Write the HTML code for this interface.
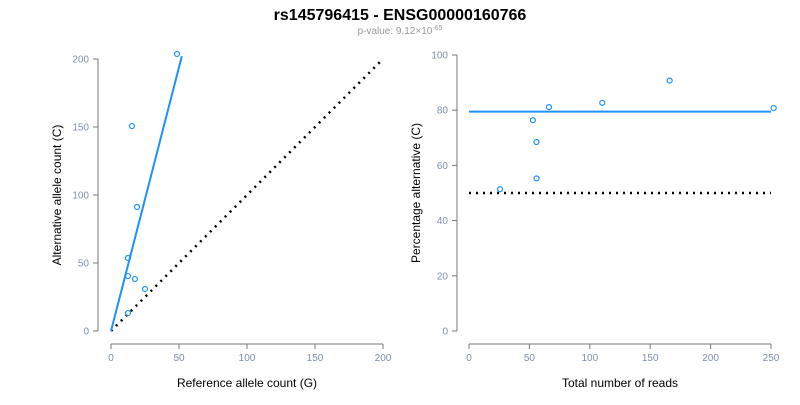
<!DOCTYPE html>
<html><head><meta charset="utf-8"><style>body{margin:0;background:#fff}svg{font-family:"Liberation Sans",sans-serif}</style></head>
<body>
<svg id="c" width="800" height="400">
<text x="400" y="20" text-anchor="middle" font-weight="bold" font-size="16">rs145796415 - ENSG00000160766</text>
<text x="400" y="34" text-anchor="middle" font-size="10" fill="#999">p-value: 9.12×10<tspan dy="-4" font-size="7">-65</tspan></text>
</svg>
<script>
const refCounts=[48.5,15.4,19.1,12.5,12.5,17.6,25,12.5];
const altCounts=[203.7,150.7,91.2,53.7,40.4,38.2,30.9,13.2];
const fitPct=[79.5];
const nullPct=[50];
const leftTicks=[0,50,100,150,200];
const rightXTicks=[0,50,100,150,200,250];
const rightYTicks=[0,20,40,60,80,100];
const svg=document.getElementById('c');const NS='http://www.w3.org/2000/svg';
function el(t,a,name){const e=document.createElementNS(NS,t);for(const k in a)e.setAttribute(k,a[k]);


svg.appendChild(e);return e;}
const lx=v=>111+v/200*272, ly=v=>331-v/200*272;
const rx=v=>469+v/250*302, ry=v=>331-v/100*276;
const blue='#1e90ff',ax='#777',tk='#7f8fa6';
function axes(xs,ys,xf,yf,xl,yl,xAxisY,yAxisX,pre,xt,yt,xc){
 el('line',{x1:xf(xs[0]),x2:xf(xs[xs.length-1]),y1:xAxisY,y2:xAxisY,stroke:ax},pre+'x-axis');
 el('line',{x1:yAxisX,x2:yAxisX,y1:yf(ys[0]),y2:yf(ys[ys.length-1]),stroke:ax},pre+'y-axis');
 xs.forEach(v=>{el('line',{x1:xf(v),x2:xf(v),y1:xAxisY,y2:xAxisY+5,stroke:ax},pre+'x-tick');
  const t=el('text',{x:xf(v),y:xAxisY+17,'text-anchor':'middle','font-size':10,fill:tk},pre+'x-tick-label');t.textContent=v;});
 ys.forEach(v=>{el('line',{x1:yAxisX-5,x2:yAxisX,y1:yf(v),y2:yf(v),stroke:ax},pre+'y-tick');
  const t=el('text',{x:yAxisX-9,y:yf(v)+3.5,'text-anchor':'end','font-size':10,fill:tk},pre+'y-tick-label');t.textContent=v;});
 let t=el('text',{x:xc,y:387,'text-anchor':'middle','font-size':12},pre+'x-axis-title');t.textContent=xt;
 const cy=(yf(ys[0])+yf(ys[ys.length-1]))/2;
 t=el('text',{x:0,y:0,'text-anchor':'middle','font-size':12,transform:`translate(${yAxisX-37},${cy}) rotate(-90)`},pre+'y-axis-title');t.textContent=yt;
}
axes(leftTicks,leftTicks,lx,ly,0,0,344,98,'left-',"Reference allele count (G)","Alternative allele count (C)",247);
axes(rightXTicks,rightYTicks,rx,ry,0,0,344,457,'right-',"Total number of reads","Percentage alternative (C)",620);
// left lines
el('line',{x1:lx(0),y1:ly(0),x2:lx(200),y2:ly(200),stroke:'#000','stroke-width':2.5,'stroke-dasharray':'2,5'},'null-line-left');
const slope=fitPct[0]/(100-fitPct[0]);const xEnd=Math.min(200,202/slope);
el('line',{x1:lx(0),y1:ly(0),x2:lx(xEnd),y2:ly(xEnd*slope),stroke:blue,'stroke-width':2},'fit-line-left');
refCounts.forEach((r,i)=>el('circle',{cx:lx(r),cy:ly(altCounts[i]),r:2.5,fill:'none',stroke:blue,'stroke-width':1.2},'point-left'));
// right
el('line',{x1:rx(0),y1:ry(nullPct[0]),x2:rx(250),y2:ry(nullPct[0]),stroke:'#000','stroke-width':2.5,'stroke-dasharray':'2,5'},'null-line-right');
el('line',{x1:rx(0),y1:ry(fitPct[0]),x2:rx(250),y2:ry(fitPct[0]),stroke:blue,'stroke-width':2},'fit-line-right');
refCounts.forEach((r,i)=>{const tot=r+altCounts[i];el('circle',{cx:rx(tot),cy:ry(altCounts[i]/tot*100),r:2.5,fill:'none',stroke:blue,'stroke-width':1.2},'point-right');});
</script>
</body></html>
